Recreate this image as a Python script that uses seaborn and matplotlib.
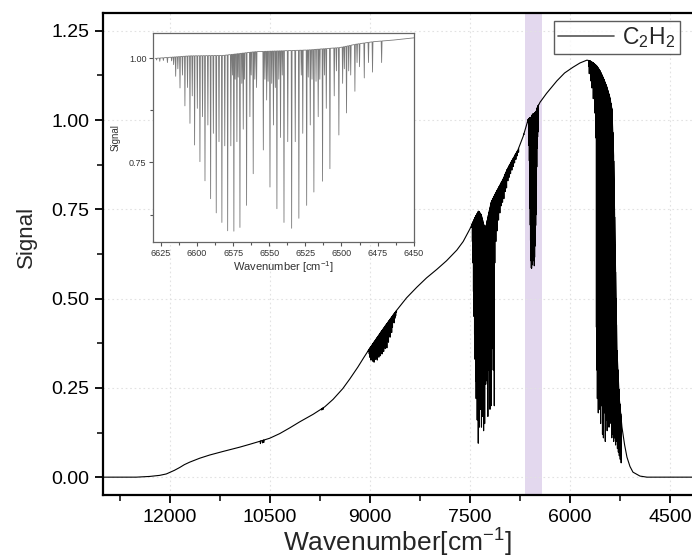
import numpy as np
import pandas as pd
import matplotlib
matplotlib.use("Agg")
import matplotlib.pyplot as plt
from matplotlib.lines import Line2D
from matplotlib.ticker import MultipleLocator, FormatStrFormatter
import seaborn as sns

# ---- continuum of the transmitted light (no absorption), wavenumber in cm^-1 ----
env_wn = [13000, 12500, 12300, 12150, 12050, 12000, 11930, 11850, 11780, 11700,
          11620, 11550, 11400, 11200, 10950, 10800, 10620, 10500, 10350, 10200,
          10050, 9850, 9675, 9550, 9405, 9300, 9180, 9090, 9000, 8900,
          8800, 8700, 8595, 8450, 8295, 8150, 7995, 7850, 7695, 7600,
          7500, 7420, 7370, 7330, 7290, 7260, 7220, 7180, 7100, 7000,
          6945, 6850, 6780, 6700, 6629, 6605, 6582, 6560, 6543, 6524,
          6501, 6490, 6478, 6464, 6448, 6350, 6195, 6080, 5955, 5850,
          5745, 5700, 5650, 5600, 5550, 5500, 5450, 5400, 5370, 5345,
          5320, 5295, 5260, 5220, 5180, 5145, 5100, 5055, 4950, 4845,
          4500, 4170]
env_sig = [0.000, 0.000, 0.002, 0.005, 0.009, 0.013, 0.019, 0.027, 0.035, 0.042,
           0.048, 0.053, 0.062, 0.072, 0.084, 0.092, 0.102, 0.109, 0.122, 0.138,
           0.155, 0.176, 0.197, 0.218, 0.248, 0.275, 0.308, 0.335, 0.361, 0.388,
           0.415, 0.441, 0.468, 0.502, 0.532, 0.558, 0.582, 0.606, 0.636, 0.660,
           0.695, 0.728, 0.745, 0.735, 0.705, 0.700, 0.735, 0.770, 0.800, 0.835,
           0.860, 0.893, 0.916, 0.955, 1.000, 1.006, 1.007, 1.016, 1.018, 1.020,
           1.026, 1.034, 1.040, 1.044, 1.050, 1.075, 1.110, 1.132, 1.148, 1.160,
           1.168, 1.166, 1.160, 1.152, 1.138, 1.118, 1.094, 1.062, 1.030, 0.900,
           0.620, 0.356, 0.220, 0.140, 0.090, 0.056, 0.030, 0.014, 0.003, 0.000,
           0.000, 0.000]

# ---- absorption lines: centre position and signal at line centre ----
weak_wn = [10640, 10610, 10590, 9720, 9700]
weak_min = [0.094, 0.096, 0.097, 0.188, 0.190]

band_a_wn = [9020, 9008, 8996, 8984, 8972, 8960, 8948, 8936, 8924, 8912, 8900, 8888,
             8876, 8864, 8852, 8840, 8828, 8816, 8804, 8792, 8780, 8768, 8756, 8744,
             8732, 8720, 8708, 8696, 8684, 8672, 8660, 8648, 8636, 8624, 8612, 8600]
band_a_min = [0.352, 0.345, 0.335, 0.328, 0.340, 0.325, 0.333, 0.322, 0.338, 0.330, 0.345, 0.328,
              0.350, 0.336, 0.360, 0.340, 0.368, 0.345, 0.375, 0.352, 0.385, 0.360, 0.392, 0.362,
              0.400, 0.378, 0.412, 0.392, 0.420, 0.405, 0.420, 0.436, 0.432, 0.445, 0.452, 0.462]

band_b_wn = [7470, 7462, 7454, 7446, 7438, 7430, 7422, 7414, 7406, 7398, 7390, 7382,
             7374, 7366, 7358, 7350, 7342, 7334, 7326, 7318, 7310, 7302, 7294, 7286,
             7278, 7270, 7262, 7254, 7246, 7238, 7230, 7222, 7214, 7206, 7198, 7190,
             7182, 7174, 7166, 7158, 7150, 7142, 7134, 7126, 7118]
band_b_min = [0.70, 0.66, 0.60, 0.52, 0.45, 0.40, 0.33, 0.27, 0.22, 0.30, 0.16, 0.25,
              0.095, 0.20, 0.14, 0.28, 0.19, 0.24, 0.14, 0.30, 0.17, 0.26, 0.13, 0.32,
              0.15, 0.35, 0.26, 0.40, 0.27, 0.36, 0.17, 0.42, 0.30, 0.45, 0.19, 0.40,
              0.20, 0.48, 0.36, 0.52, 0.30, 0.55, 0.20, 0.60, 0.68]

band_c_wn = [7110, 7100, 7090, 7080, 7070, 7060, 7050, 7040, 7030, 7020, 7010, 7000,
             6990, 6980, 6970, 6960, 6950, 6940, 6930, 6920, 6910, 6900, 6890, 6880,
             6870, 6860, 6850, 6840, 6830, 6820, 6810, 6800, 6790, 6780, 6770, 6760,
             6750, 6740, 6730, 6720, 6710, 6700, 6690, 6680, 6670, 6660, 6650]
band_c_min = [0.66, 0.72, 0.69, 0.75, 0.72, 0.77, 0.74, 0.79, 0.76, 0.80, 0.77, 0.81,
              0.78, 0.83, 0.80, 0.84, 0.81, 0.85, 0.83, 0.86, 0.84, 0.87, 0.85, 0.88,
              0.86, 0.89, 0.87, 0.90, 0.88, 0.90, 0.89, 0.92, 0.90, 0.93, 0.91, 0.94,
              0.93, 0.95, 0.94, 0.955, 0.95, 0.965, 0.96, 0.975, 0.975, 0.985, 0.99]

# nu1+nu3 combination band of C2H2 (R and P branches plus hot-band lines)
band_d_wn = [6617.6, 6614.8, 6611.8, 6608.4, 6604.9, 6601.7, 6598.0, 6594.5, 6590.6,
             6586.7, 6582.8, 6578.8, 6574.5, 6570.3, 6565.7, 6561.1,
             6616.2, 6613.3, 6610.1, 6606.6, 6603.3, 6599.8, 6596.2, 6592.5, 6588.7,
             6584.8, 6580.8, 6576.6, 6572.4, 6568.0, 6563.4, 6558.8,
             6554.1, 6549.5, 6544.7, 6539.8, 6534.5, 6529.5, 6524.1, 6519.1, 6513.1,
             6508.0, 6501.8, 6496.5, 6490.7, 6484.2, 6478.5, 6472.2,
             6551.8, 6547.1, 6542.2, 6537.2, 6532.0, 6526.8, 6521.6, 6516.1, 6510.5,
             6505.0, 6499.2, 6493.6, 6487.5, 6481.3,
             6575.5, 6573.6, 6571.5, 6569.0, 6567.2, 6562.5, 6560.0, 6553.0, 6550.8,
             6548.3, 6545.8, 6543.4, 6541.0, 6527.8, 6523.0, 6520.4, 6517.6, 6515.0,
             6511.8, 6503.5, 6498.0, 6495.0, 6489.2, 6620.5, 6623.3, 6625.8, 6628.0]
band_d_min = [0.994, 0.957, 0.929, 0.886, 0.844, 0.792, 0.752, 0.706, 0.663,
              0.629, 0.606, 0.586, 0.585, 0.594, 0.647, 0.723,
              0.985, 0.975, 0.960, 0.930, 0.910, 0.880, 0.860, 0.840, 0.820,
              0.800, 0.790, 0.790, 0.800, 0.830, 0.860, 0.930,
              0.780, 0.691, 0.639, 0.606, 0.592, 0.616, 0.647, 0.679, 0.705,
              0.735, 0.816, 0.869, 0.921, 0.953, 0.967, 0.990,
              0.900, 0.840, 0.810, 0.800, 0.800, 0.820, 0.840, 0.860, 0.880,
              0.910, 0.940, 0.960, 0.980, 0.990,
              0.960, 0.950, 0.955, 0.940, 0.950, 0.960, 0.950, 0.950, 0.945,
              0.940, 0.930, 0.950, 0.960, 0.960, 0.955, 0.950, 0.945, 0.950,
              0.960, 0.970, 0.975, 0.970, 0.990, 0.990, 0.995, 0.993, 0.996]

band_e_wn = [5720, 5710, 5700, 5690, 5680, 5670, 5660, 5650, 5640, 5630, 5620, 5610,
             5603, 5596, 5589, 5582, 5575, 5568, 5561, 5554, 5547, 5540, 5533, 5526,
             5519, 5512, 5505, 5498, 5491, 5484, 5477, 5470, 5463, 5456, 5449, 5442,
             5435, 5428, 5421, 5414, 5407, 5400, 5393, 5386, 5379, 5372, 5365, 5358,
             5351, 5344, 5337, 5330, 5323, 5316, 5309, 5302, 5295, 5288, 5281, 5274,
             5267, 5260, 5253, 5246, 5239, 5232]
band_e_min = [1.15, 1.13, 1.14, 1.11, 1.13, 1.09, 1.12, 1.06, 1.10, 1.02, 1.07, 0.95,
              0.42, 0.30, 0.22, 0.35, 0.18, 0.28, 0.24, 0.19, 0.32, 0.15, 0.26, 0.20,
              0.30, 0.12, 0.27, 0.11, 0.31, 0.18, 0.25, 0.10, 0.29, 0.16, 0.33, 0.13,
              0.24, 0.19, 0.30, 0.14, 0.26, 0.15, 0.31, 0.20, 0.27, 0.11, 0.29, 0.12,
              0.25, 0.10, 0.22, 0.11, 0.20, 0.09, 0.16, 0.10, 0.14, 0.08, 0.12, 0.07,
              0.10, 0.06, 0.08, 0.05, 0.06, 0.04]

# highlighted window that the inset enlarges
window_wn = [6670, 6425]


def assemble_spectrum(half_width=0.3):
    """Join the continuum and the line minima into one polyline."""
    pos = np.array(weak_wn + band_a_wn + band_b_wn + band_c_wn + band_d_wn + band_e_wn, float)
    low = np.array(weak_min + band_a_min + band_b_min + band_c_min + band_d_min + band_e_min, float)
    ew = np.array(env_wn[::-1], float)
    es = np.array(env_sig[::-1], float)
    wn = [w for w in ew if np.min(np.abs(pos - w)) > half_width]
    sig = list(np.interp(wn, ew, es))
    for p, m in zip(pos, low):
        for w in (p - half_width, p + half_width):
            wn.append(w)
            sig.append(np.interp(w, ew, es))
        wn.append(p)
        sig.append(min(m, np.interp(p, ew, es)))
    order = np.argsort(wn)
    return pd.DataFrame({"wavenumber": np.array(wn)[order], "signal": np.array(sig)[order]})


spec = assemble_spectrum()

sns.set_theme(style="white")
plt.rcParams["font.family"] = ["Liberation Sans", "DejaVu Sans"]
plt.rcParams["mathtext.fontset"] = "custom"
plt.rcParams["mathtext.rm"] = "Liberation Sans"
plt.rcParams["mathtext.it"] = "Liberation Sans"

fig = plt.figure(figsize=(6.92, 5.58), dpi=100)
ax = fig.add_axes([0.1488, 0.1129, 0.8512, 0.8638])

ax.axvspan(window_wn[0], window_wn[1], color="#e3d8ee", lw=0, zorder=0)
sns.lineplot(data=spec, x="wavenumber", y="signal", ax=ax, color="black", lw=0.8,
             estimator=None, sort=False, zorder=3)

ax.set_xlim(13000, 4170)
ax.set_ylim(-0.05, 1.30)
ax.xaxis.set_major_locator(MultipleLocator(1500))
ax.xaxis.set_minor_locator(MultipleLocator(750))
ax.yaxis.set_major_locator(MultipleLocator(0.25))
ax.yaxis.set_minor_locator(MultipleLocator(0.125))
ax.yaxis.set_major_formatter(FormatStrFormatter("%.2f"))
ax.grid(True, which="major", color="#e2e2e2", lw=0.8, ls=(0, (1.5, 2.5)))
ax.tick_params(which="major", direction="out", length=6, width=1.3, labelsize=14,
               bottom=True, left=True, colors="black", pad=4)
ax.tick_params(which="minor", direction="out", length=4, width=1.3, bottom=True, left=True)
for side in ("left", "bottom", "top"):
    ax.spines[side].set_linewidth(1.6)
    ax.spines[side].set_color("black")
ax.spines["right"].set_visible(False)
ax.set_xlabel("Wavenumber[cm$^{-1}$]", fontsize=19, labelpad=1)
ax.set_ylabel("Signal", fontsize=16)
ax.yaxis.set_label_coords(-0.112, 0.535)

handle = Line2D([], [], color="#555555", lw=1.2)
leg = ax.legend([handle], ["C$_2$H$_2$"], loc="upper right", bbox_to_anchor=(0.979, 0.983),
                borderaxespad=0, fontsize=16.5, frameon=True, fancybox=False,
                handlelength=2.45, handletextpad=0.35, borderpad=0.18)
leg.get_frame().set_edgecolor("#333333")
leg.get_frame().set_linewidth(1.0)

# enlarged view of the highlighted window
ins = fig.add_axes([0.2215, 0.5663, 0.3763, 0.3746])
part = spec[(spec["wavenumber"] <= 6632) & (spec["wavenumber"] >= 6446)]
sns.lineplot(data=part, x="wavenumber", y="signal", ax=ins, color="#7a7a7a", lw=0.6,
             estimator=None, sort=False)
ins.set_xlim(6630.3, 6450)
ins.set_ylim(0.559, 1.061)
ins.xaxis.set_major_locator(MultipleLocator(25))
ins.xaxis.set_minor_locator(MultipleLocator(12.5))
ins.yaxis.set_major_locator(MultipleLocator(0.25))
ins.yaxis.set_minor_locator(MultipleLocator(0.125))
ins.yaxis.set_major_formatter(FormatStrFormatter("%.2f"))
ins.grid(False)
ins.tick_params(which="major", direction="out", length=3, width=0.8, labelsize=6.5,
                bottom=True, left=True, colors="#555555", labelcolor="#333333", pad=2)
ins.tick_params(which="minor", direction="out", length=2, width=0.8, bottom=True, left=True,
                colors="#555555")
for side in ("left", "bottom", "top", "right"):
    ins.spines[side].set_linewidth(0.9)
    ins.spines[side].set_color("#666666")
ins.set_xlabel("Wavenumber [cm$^{-1}$]", fontsize=8, labelpad=1, color="#333333")
ins.set_ylabel("Signal", fontsize=7, labelpad=6, color="#333333")

fig.savefig("out.png", dpi=100)
